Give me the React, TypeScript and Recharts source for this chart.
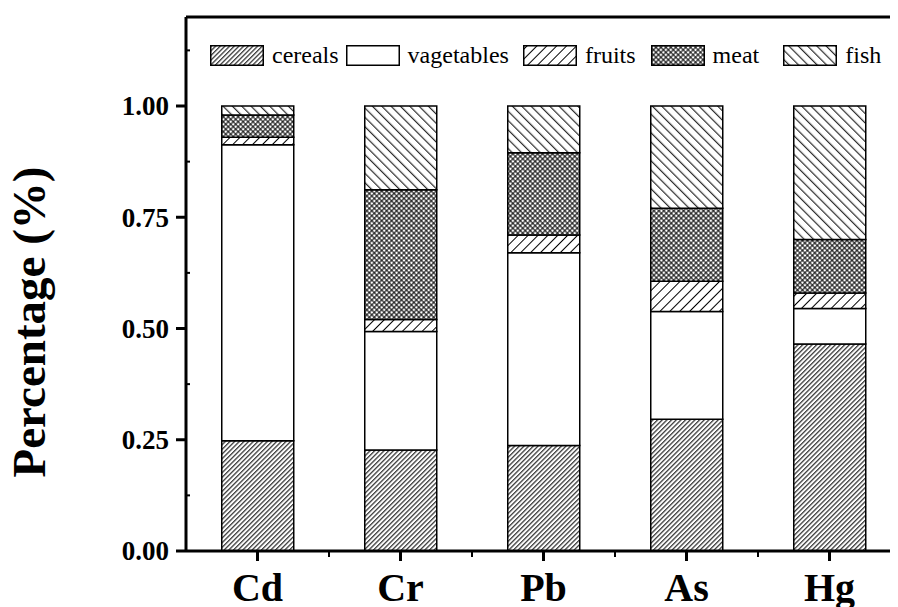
import React from "react";
import { BarChart, Bar, XAxis, YAxis, Legend, ReferenceLine } from "recharts";

// heavy-metal share of each food group (stacks sum to 1)
const categories = ["Cd", "Cr", "Pb", "As", "Hg"];
const cereals = [0.248, 0.227, 0.237, 0.296, 0.465];
const vegetables = [0.665, 0.266, 0.433, 0.242, 0.08];
const fruits = [0.017, 0.027, 0.04, 0.068, 0.035];
const meat = [0.05, 0.292, 0.185, 0.164, 0.12];
const fish = [0.02, 0.188, 0.105, 0.23, 0.3];
const yTicks = [0, 0.125, 0.25, 0.375, 0.5, 0.625, 0.75, 0.875, 1, 1.125];

const W = 900;
const H = 599;
const Y_AXIS_W = 178;
const X_AXIS_H = 56;
const MARGIN = { top: 9, right: 7, left: 0, bottom: 0 };
const YMAX = 1.2;
const BAND = (W - Y_AXIS_W - MARGIN.right) / categories.length;
const FONT = "'Liberation Serif', 'Times New Roman', serif";

const data = categories.map((c, i) => ({
  name: c,
  cereals: cereals[i],
  vegetables: vegetables[i],
  fruits: fruits[i],
  meat: meat[i],
  fish: fish[i],
}));

const series = [
  { key: "cereals", label: "cereals", fill: "url(#pCereals)" },
  { key: "vegetables", label: "vagetables", fill: "#fff" },
  { key: "fruits", label: "fruits", fill: "url(#pFruits)" },
  { key: "meat", label: "meat", fill: "url(#pMeat)" },
  { key: "fish", label: "fish", fill: "url(#pFish)" },
];
// gap before each legend entry (Origin-style uneven spacing)
const legendGaps = [0, 7, 14, 15, 24];

function Patterns() {
  return (
    <svg width={0} height={0} style={{ position: "absolute" }}>
      <defs>
        <pattern id="pCereals" patternUnits="userSpaceOnUse" width={3.3} height={10} patternTransform="rotate(45)">
          <rect width={3.3} height={10} fill="#fff" />
          <rect x={1} width={1} height={10} fill="#000" />
        </pattern>
        <pattern id="pFruits" patternUnits="userSpaceOnUse" width={7} height={10} patternTransform="rotate(45)">
          <rect width={7} height={10} fill="#fff" />
          <rect x={3} width={1} height={10} fill="#000" />
        </pattern>
        <pattern id="pFish" patternUnits="userSpaceOnUse" width={6.6} height={10} patternTransform="rotate(-45)">
          <rect width={6.6} height={10} fill="#fff" />
          <rect x={3} width={1} height={10} fill="#000" />
        </pattern>
        <pattern id="pMeat" patternUnits="userSpaceOnUse" width={3.5} height={3.5} patternTransform="rotate(45)">
          <rect width={3.5} height={3.5} fill="#fff" />
          <rect x={1.2} width={1} height={3.5} fill="#000" />
          <rect y={1.2} width={3.5} height={1} fill="#000" />
        </pattern>
      </defs>
    </svg>
  );
}

function LegendContent() {
  return (
    <div style={{ display: "flex", alignItems: "center", whiteSpace: "nowrap", fontFamily: FONT, fontSize: 24, color: "#000" }}>
      {series.map((s, i) => (
        <div key={s.key} style={{ display: "flex", alignItems: "center", marginLeft: legendGaps[i] }}>
          <svg width={54} height={21}>
            <rect x={0.75} y={0.75} width={52.5} height={19.5} fill={s.fill} stroke="#000" strokeWidth={1.5} />
          </svg>
          <span style={{ marginLeft: 8 }}>{s.label}</span>
        </div>
      ))}
    </div>
  );
}

function YTick(props: any) {
  const { x, y, payload } = props;
  const major = Math.abs(payload.value * 4 - Math.round(payload.value * 4)) < 1e-6;
  if (!major) {
    return <line x1={x} x2={x + 4} y1={y} y2={y} stroke="#000" strokeWidth={2} />;
  }
  return (
    <g>
      <line x1={x} x2={x - 10} y1={y} y2={y} stroke="#000" strokeWidth={3} />
      <text x={x - 17} y={y} dy="0.35em" textAnchor="end" fontFamily={FONT} fontWeight="bold" fontSize={27} fill="#000">
        {payload.value.toFixed(2)}
      </text>
    </g>
  );
}

function XTick(props: any) {
  const { x, y, payload, index } = props;
  return (
    <g>
      <line x1={x} x2={x} y1={y} y2={y + 10} stroke="#000" strokeWidth={3} />
      {index < categories.length - 1 && (
        <line x1={x + BAND / 2} x2={x + BAND / 2} y1={y} y2={y + 6} stroke="#000" strokeWidth={2} />
      )}
      <text x={x} y={y + 50} textAnchor="middle" fontFamily={FONT} fontWeight="bold" fontSize={40} fill="#000">
        {payload.value}
      </text>
    </g>
  );
}

function TopTick(props: any) {
  const { x, y } = props;
  return (
    <g>
      <line x1={x} x2={x} y1={y} y2={y + 4} stroke="#000" strokeWidth={2} />
      <line x1={x + BAND / 2} x2={x + BAND / 2} y1={y} y2={y + 3} stroke="#000" strokeWidth={1.5} />
    </g>
  );
}

function YLabel() {
  return (
    <text
      x={37}
      y={314}
      transform="rotate(-90, 37, 314)"
      textAnchor="middle"
      fontFamily={FONT}
      fontWeight="bold"
      fontSize={47}
      fill="#000"
    >
      Percentage (%)
    </text>
  );
}

export default function App() {
  return (
    <div style={{ position: "relative", width: 890, height: 599, overflow: "hidden", background: "#fff" }}>
      <Patterns />
      <BarChart width={W} height={H} data={data} margin={MARGIN} barCategoryGap="25%">
        <XAxis
          dataKey="name"
          height={X_AXIS_H}
          axisLine={{ stroke: "#000", strokeWidth: 3 }}
          tickLine={false}
          tickSize={0}
          tickMargin={0}
          tick={<XTick />}
          interval={0}
        />
        <XAxis
          xAxisId="top"
          orientation="top"
          dataKey="name"
          height={0}
          axisLine={false}
          tickLine={false}
          tickSize={0}
          tickMargin={0}
          tick={<TopTick />}
          interval={0}
        />
        <YAxis
          width={Y_AXIS_W}
          domain={[0, YMAX]}
          ticks={yTicks}
          interval={0}
          axisLine={{ stroke: "#000", strokeWidth: 3 }}
          tickLine={false}
          tickSize={0}
          tickMargin={0}
          tick={<YTick />}
          label={() => <YLabel />}
        />
        <ReferenceLine y={YMAX} stroke="#000" strokeWidth={3} />
        <Legend
          layout="horizontal"
          verticalAlign="middle"
          content={<LegendContent />}
          wrapperStyle={{ position: "absolute", top: 34, left: 202, width: 700 }}
        />
        {series.map((s) => (
          <Bar
            key={s.key}
            dataKey={s.key}
            stackId="a"
            fill={s.fill}
            stroke="#000"
            strokeWidth={1.5}
            isAnimationActive={false}
          />
        ))}
      </BarChart>
    </div>
  );
}
